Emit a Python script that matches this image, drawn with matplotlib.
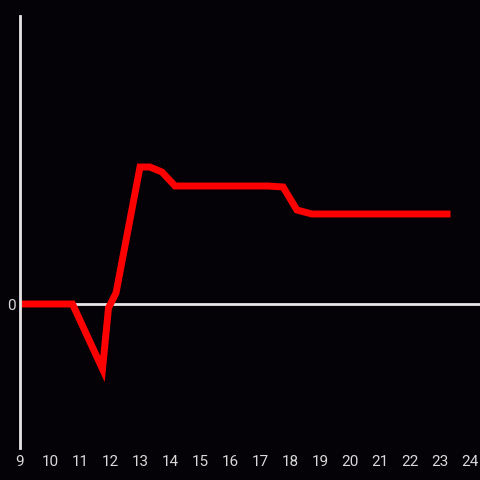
import matplotlib
matplotlib.use('Agg')
import matplotlib.pyplot as plt

# Values
hours = [9, 10.75, 11.75, 11.95, 12.2, 13.0, 13.33, 13.73, 14.17, 17.27, 17.77, 18.23, 18.73, 23.35]
values = [0, 0, -6.5, -0.4, 1.1, 13.7, 13.7, 13.2, 11.8, 11.8, 11.7, 9.4, 9.0, 9.0]
xticks = list(range(9, 25))

plt.rcParams['font.family'] = ['Roboto', 'DejaVu Sans']

bg = '#040206'
fig = plt.figure(figsize=(4.8, 4.8), dpi=100, facecolor=bg)
ax = fig.add_axes([20 / 480, 32 / 480, 460 / 480, 432 / 480], facecolor=bg)

ax.axhline(0, color='#e6e6e6', lw=2, zorder=1)
ax.plot(hours, values, color='#ff0000', lw=5, solid_joinstyle='miter',
        solid_capstyle='butt', zorder=2)

ax.set_xlim(9, 24 + 1 / 3)
ax.set_ylim(-14.4, 28.8)
ax.set_xticks(xticks)
ax.set_xticklabels([str(t) for t in xticks])
ax.set_yticks([0])
ax.set_yticklabels(['0'])
ax.tick_params(axis='both', length=0, colors='#d9d9d9', labelsize=11)
ax.tick_params(axis='x', pad=5)
ax.tick_params(axis='y', pad=3)

for side in ['top', 'right', 'bottom']:
    ax.spines[side].set_visible(False)
ax.spines['left'].set_color('#e6e6e6')
ax.spines['left'].set_linewidth(2)

fig.savefig('out.png', dpi=100, facecolor=bg)
